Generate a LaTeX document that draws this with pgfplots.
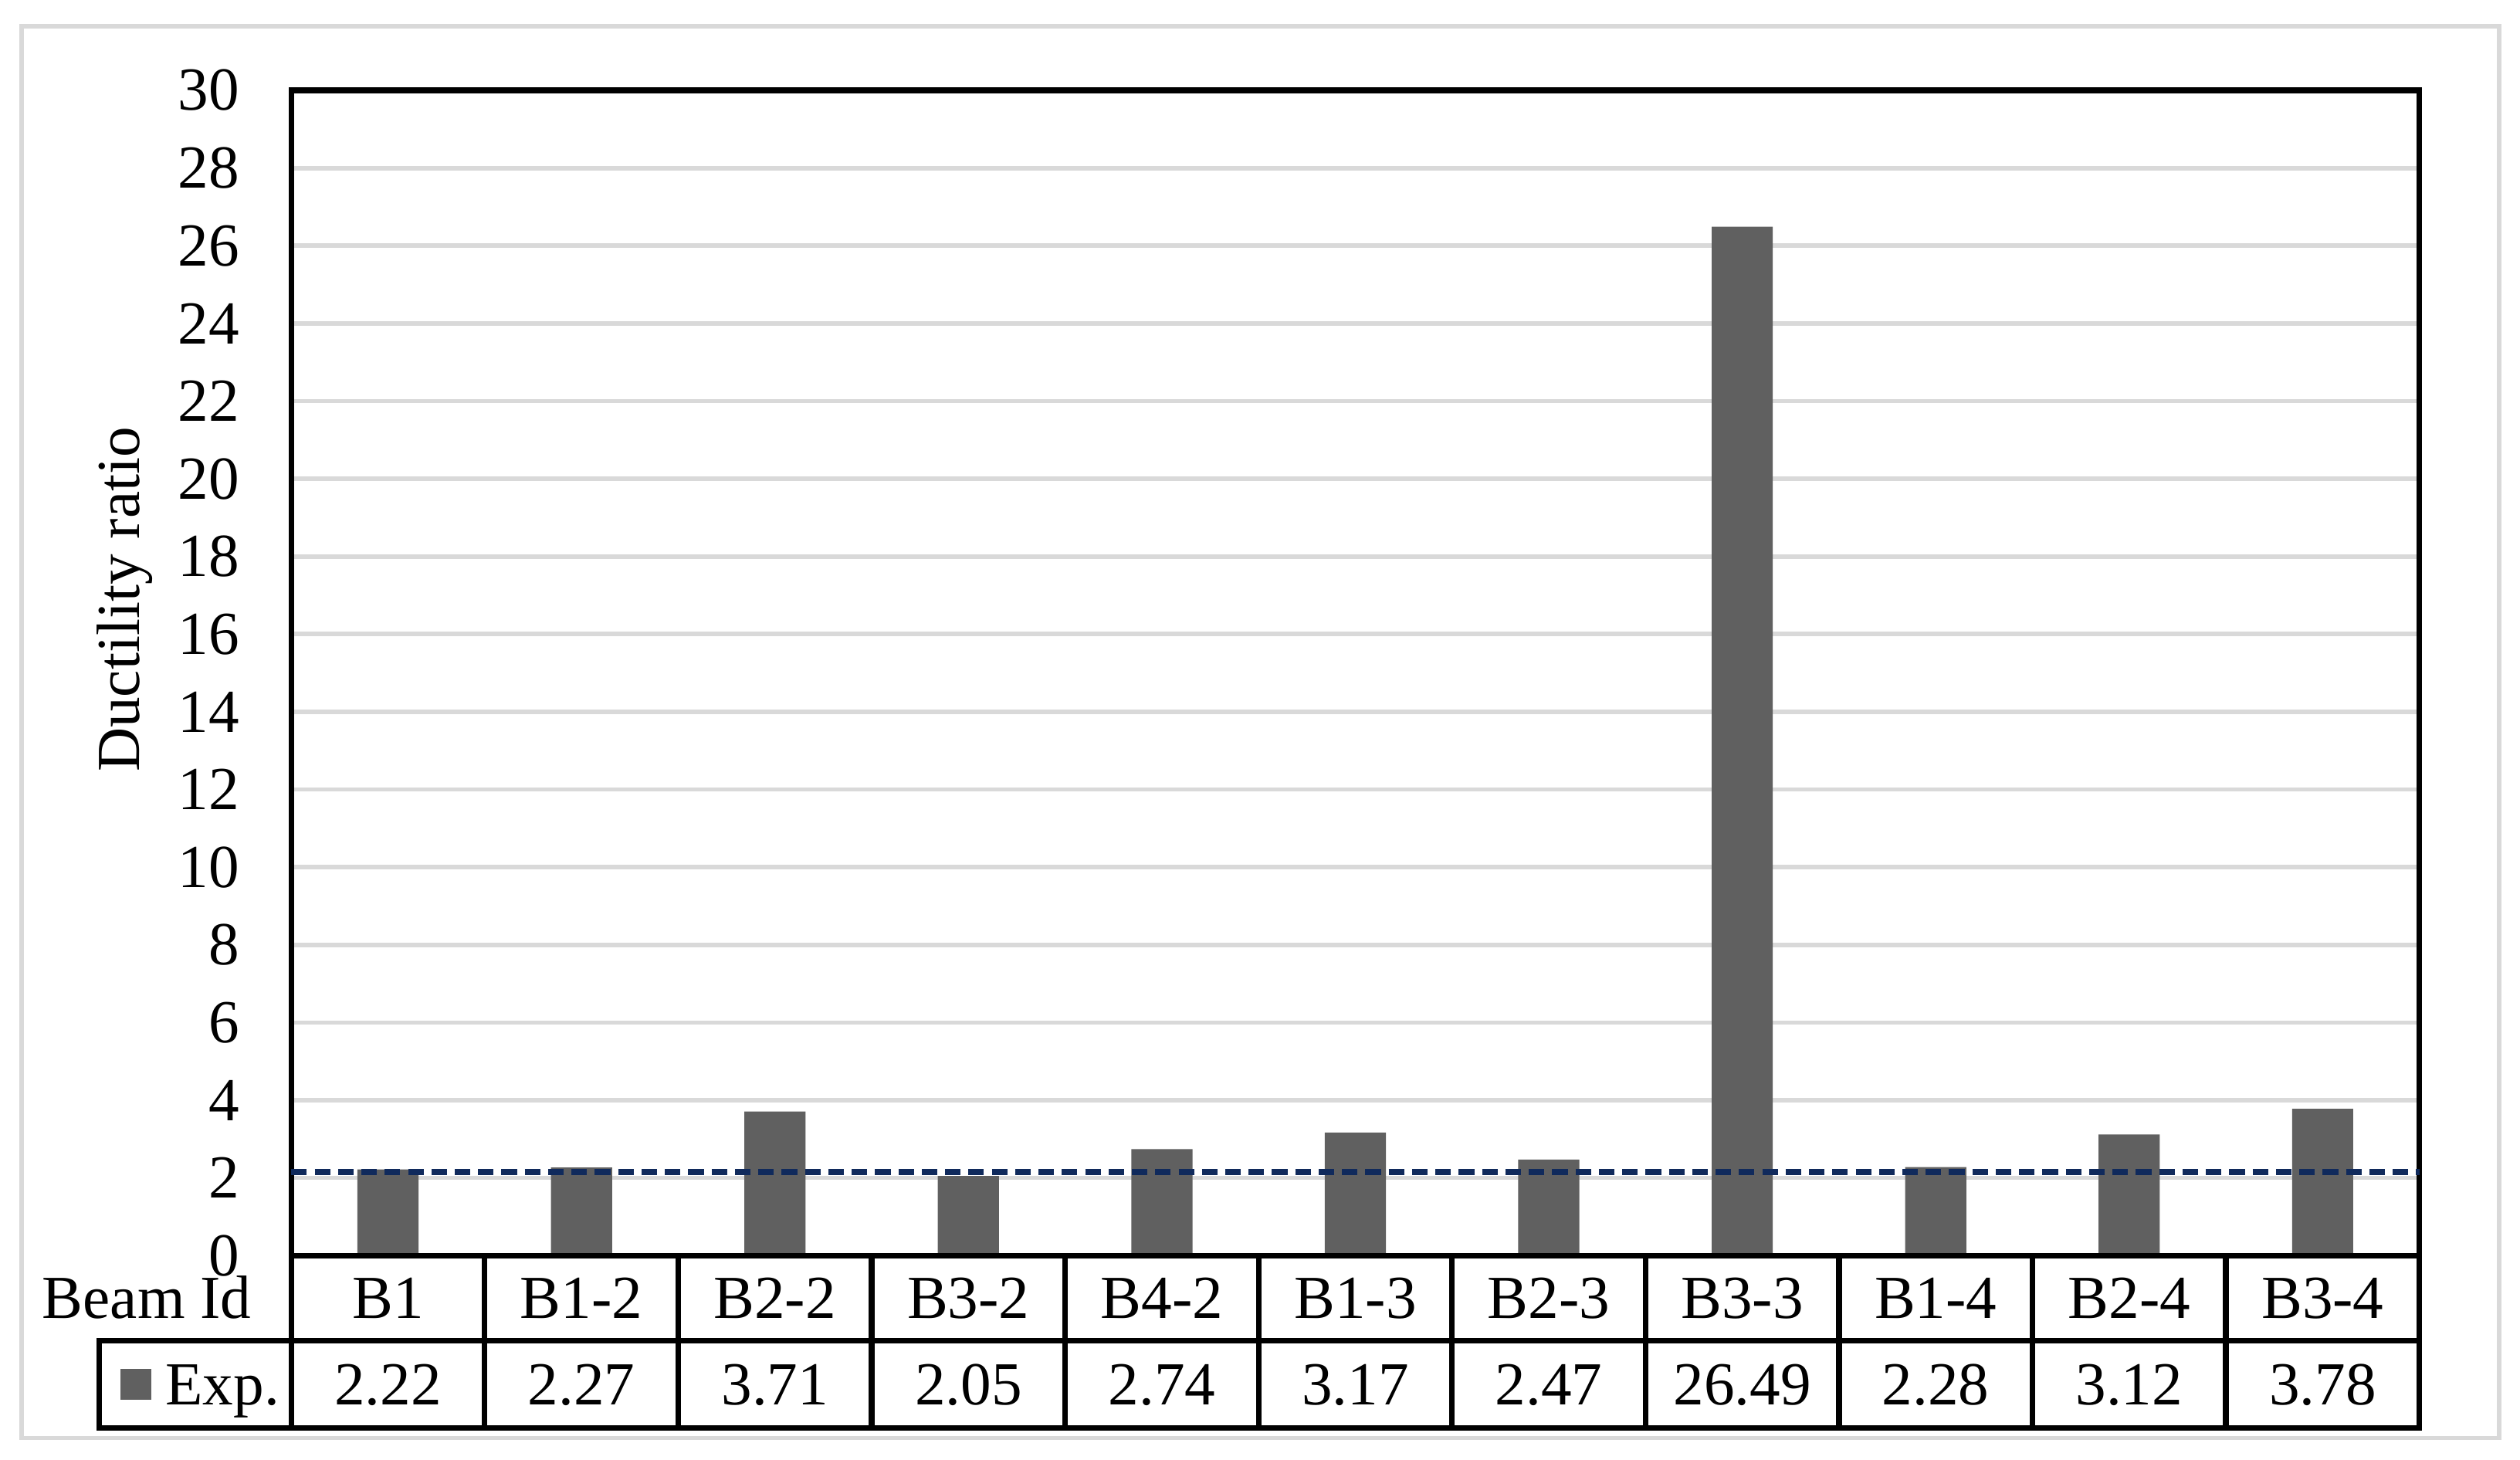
\documentclass[border=0pt]{standalone}
\usepackage{fontspec}
\setmainfont{Liberation Serif}
\usepackage{pgfplots}
\pgfplotsset{compat=1.18}
\definecolor{bargray}{HTML}{606060}
\definecolor{gridgray}{HTML}{D9D9D9}
\definecolor{navy}{HTML}{102A5C}
\begin{document}
\fontsize{11}{13}\selectfont
\begin{tikzpicture}
\path[use as bounding box] (-52.4pt,-36.65pt) rectangle (400.9pt,225.85pt);
\draw[gridgray, line width=0.8pt] (-48.5pt,-32.8pt) rectangle (397.2pt,221.15pt);
\begin{axis}[
  at={(0,0)}, anchor=south west,
  scale only axis, width=382.8pt, height=209.6pt,
  xmin=-0.5, xmax=10.5, ymin=0, ymax=30,
  ytick={0,2,...,30},
  xtick={0,...,10},
  xticklabels={B1,B1-2,B2-2,B3-2,B4-2,B1-3,B2-3,B3-3,B1-4,B2-4,B3-4},
  major tick length=0pt,
  ymajorgrids, grid style={gridgray, line width=0.8pt},
  axis line style={line width=1pt},
  /pgf/number format/assume math mode=true,
  tick label style={font=\fontsize{11}{13}\selectfont},
  yticklabel style={anchor=east, xshift=-5.5pt},
  xticklabel style={anchor=base, inner sep=0pt, yshift=-11.3pt},
  every axis y label/.style={at={(axis description cs:-0.0784,0.563)}, rotate=90, anchor=center, font=\fontsize{11}{13}\selectfont},
  ylabel={Ductility ratio},
  clip=false,
]
\addplot[ybar, bar width=11pt, fill=bargray, draw=none] coordinates {
  (0,2.22) (1,2.27) (2,3.71) (3,2.05) (4,2.74) (5,3.17) (6,2.47) (7,26.49) (8,2.28) (9,3.12) (10,3.78)};
\addplot[navy, line width=1pt, dash pattern=on 2.8pt off 1.4pt] coordinates {(-0.5,2.15) (10.5,2.15)};
\end{axis}
\begin{scope}[line width=1pt, line cap=rect]
\draw (0,0) -- (382.8pt,0);
\draw (-34.5pt,-15.3pt) -- (382.8pt,-15.3pt);
\draw (-34.5pt,-31pt) -- (382.8pt,-31pt);
\draw (-34.5pt,-15.3pt) -- (-34.5pt,-31pt);
\foreach \k in {0,...,11} \draw (\k*34.8pt,0) -- (\k*34.8pt,-31pt);
\end{scope}
\node[anchor=base east, inner sep=0pt] at (-7pt,-11.3pt) {Beam Id};
\fill[bargray] (-30.7pt,-25.9pt) rectangle (-25.2pt,-20.4pt);
\node[anchor=base west, inner sep=0pt] at (-22.8pt,-26.8pt) {Exp.};
\foreach \v [count=\i from 0] in {2.22,2.27,3.71,2.05,2.74,3.17,2.47,26.49,2.28,3.12,3.78}
  \node[anchor=base, inner sep=0pt] at ({(\i+0.5)*34.8pt},-26.8pt) {\v};
\end{tikzpicture}
\end{document}
